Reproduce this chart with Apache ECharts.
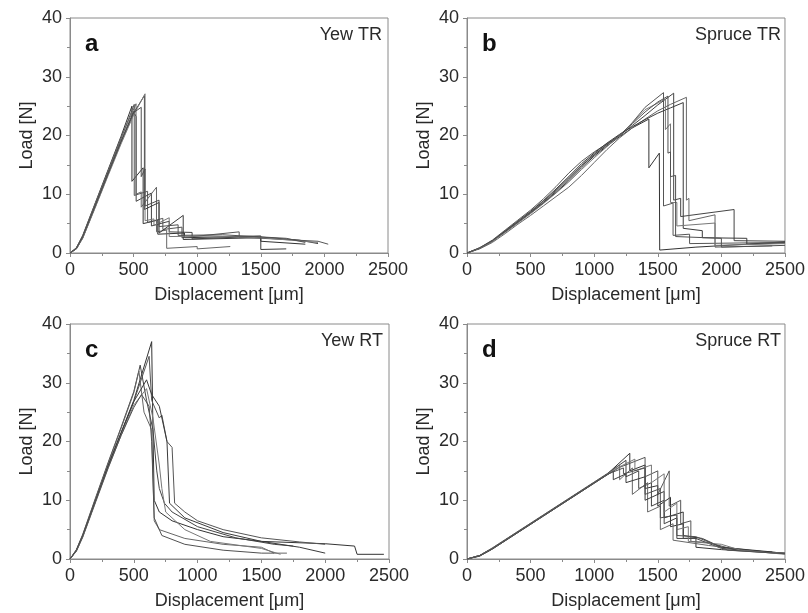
<!DOCTYPE html>
<html>
<head>
<meta charset="utf-8">
<script src="https://cdn.jsdelivr.net/npm/echarts@6/dist/echarts.min.js"></script>
<style>html,body{margin:0;padding:0;background:#fff}#c{width:808px;height:613px}</style>
</head>
<body>
<div id="c"></div>
<script>
// ---- axis ticks ----
const xTicks = [0, 500, 1000, 1500, 2000, 2500];
const yTicks = [0, 10, 20, 30, 40];
const panelLetters = ['a', 'b', 'c', 'd'];
const panelNames = ['Yew TR', 'Spruce TR', 'Yew RT', 'Spruce RT'];

// ---- (a) Yew TR : [displacement µm, load N] ----
const yewTR_1 = [[0,0],[50,0.9],[100,3],[200,8.6],[300,14.2],[400,19.8],[487,25],[487,12.2],[575,14.5],[575,5],[690,5.6],[690,3.2],[900,3.4],[900,2.6],[1500,2.9],[1500,2],[1850,1.5]];
const yewTR_2 = [[0,0],[50,0.8],[100,2.8],[200,8.3],[300,13.8],[400,19.4],[505,25.3],[505,9.8],[610,10.5],[610,5.2],[730,5.9],[730,4],[880,4.4],[880,2.6],[1330,3.6],[1330,2.7],[1950,2],[2030,1.5]];
const yewTR_3 = [[0,0],[50,0.7],[100,2.6],[200,8],[300,13.4],[400,18.9],[500,24.1],[520,23.2],[520,8.8],[640,10.2],[640,4.6],[780,5.4],[780,3.6],[960,3.5],[960,2.4],[1450,2.8],[1800,2.2],[1950,1.6]];
const yewTR_4 = [[0,0],[50,0.8],[100,2.9],[200,8.5],[300,14],[400,19.6],[519,25.4],[519,10],[560,10.4],[560,7.8],[680,11.2],[680,3.6],[760,3.9],[760,0.8],[1000,1.1],[1000,0.7],[1260,1.1]];
const yewTR_5 = [[0,0],[50,0.7],[100,2.6],[200,8],[300,13.5],[400,18.8],[500,23.8],[585,26.8],[585,7.4],[700,8.6],[700,3.4],[890,6.4],[890,2.3],[1500,2.6],[1500,0.6],[1700,0.7]];
const yewTR_6 = [[0,0],[50,0.7],[100,2.5],[200,7.8],[300,13.2],[400,18.5],[500,23.5],[590,27.1],[590,5.5],[660,5.8],[660,4.7],[780,6],[780,2.8],[1100,2.9],[1500,2.6],[1950,1.8]];
const yewTR_7 = [[0,0],[50,0.8],[100,2.8],[200,8.2],[300,13.6],[400,19],[500,23.9],[560,24.8],[560,13],[590,14.3],[590,8],[700,9],[700,4.5],[850,4.8],[850,3],[1200,3.1],[1700,2.5],[1850,1.8]];

// ---- (b) Spruce TR ----
const spruceTR_1 = [[0,0],[100,0.8],[200,2],[300,3.6],[400,5.2],[500,6.8],[600,8.5],[700,10.3],[800,12.3],[900,14.5],[1000,16.5],[1100,18.2],[1200,19.8],[1300,21.3],[1430,22.8],[1430,14.5],[1512,17],[1515,0.5],[1800,1],[2200,1.5],[2500,1.9]];
const spruceTR_2 = [[0,0],[100,0.9],[200,2.2],[300,3.9],[400,5.6],[500,7.3],[600,9.2],[700,11.3],[800,13.6],[900,15.6],[1000,17.2],[1100,18.6],[1200,19.9],[1300,22.2],[1400,24.8],[1545,27.3],[1545,8],[1620,8.5],[1620,3],[1750,3.2],[1750,1.6],[2500,1.8]];
const spruceTR_3 = [[0,0],[100,0.8],[200,2],[300,3.6],[400,5.2],[500,6.9],[600,8.6],[700,10.5],[800,12.6],[900,14.8],[1000,16.7],[1100,18.4],[1200,20],[1300,21.7],[1400,23.4],[1500,25.2],[1625,27.2],[1625,9],[1680,9.3],[1680,6.2],[2100,7.4],[2100,2.1],[2500,2]];
const spruceTR_4 = [[0,0],[100,0.7],[200,1.8],[300,3.3],[400,4.9],[500,6.4],[600,8],[700,9.6],[800,11.2],[900,13.2],[1000,15.4],[1100,17.6],[1200,19.6],[1300,21.3],[1400,22.8],[1500,24.2],[1600,25.3],[1725,26.5],[1725,9],[1745,9.3],[1745,5.5],[1950,6.5],[1950,1],[2400,1.2]];
const spruceTR_5 = [[0,0],[100,0.8],[200,2.1],[300,3.7],[400,5.4],[500,7.1],[600,8.9],[700,10.9],[800,13],[900,15.2],[1000,17],[1100,18.7],[1200,20.2],[1300,21.5],[1400,22.7],[1500,23.8],[1600,24.7],[1700,25.6],[1700,4.2],[1850,3.8],[1850,2.6],[2200,2.5],[2200,1.5],[2500,1.7]];
const spruceTR_6 = [[0,0],[100,0.8],[200,2],[300,3.5],[400,5.1],[500,6.7],[600,8.4],[700,10.2],[800,12.1],[900,14.2],[1000,16.2],[1100,18.1],[1200,20],[1300,22.2],[1400,24.4],[1560,26.2],[1560,21],[1600,22],[1600,8.6],[1650,8.6],[1650,4.6],[1950,5.1],[1950,1.3],[2500,1.6]];
const spruceTR_7 = [[0,0],[100,0.9],[200,2.1],[300,3.8],[400,5.4],[500,7],[600,8.8],[700,10.7],[800,12.8],[900,14.9],[1000,16.8],[1100,18.5],[1200,20.1],[1300,22],[1400,24],[1500,25.7],[1580,26.7],[1580,17],[1600,17.2],[1600,13],[1640,13.2],[1640,2.8],[2000,2.5],[2000,1],[2500,1.3]];

// ---- (c) Yew RT ----
const yewRT_1 = [[0,0],[50,1.5],[100,4],[200,10],[300,16],[400,21.5],[500,27],[640,37],[650,22],[660,10],[700,8],[800,6.5],[1000,5],[1200,3.8],[1500,3],[2000,2.6],[2230,2.2],[2250,0.8],[2460,0.8]];
const yewRT_2 = [[0,0],[50,1.4],[100,3.8],[200,9.8],[300,15.8],[400,21.3],[500,26.8],[620,34.5],[640,27],[700,24],[720,24.5],[760,20],[800,19],[820,9.5],[900,8],[1000,6.5],[1200,5],[1500,3.6],[1800,2.9],[2000,2.5]];
const yewRT_3 = [[0,0],[50,1.6],[100,4.2],[200,10.4],[300,16.5],[400,22.4],[500,28.5],[550,33],[600,27],[650,22],[680,15],[700,12],[740,9.5],[800,8],[1000,5.5],[1300,3.6],[1600,2.5],[1750,2.2]];
const yewRT_4 = [[0,0],[50,1.5],[100,4.1],[200,10.2],[300,16.3],[400,22.2],[500,28.3],[540,32],[580,25],[640,22],[660,6.5],[700,5],[900,3.5],[1200,2.5],[1500,2],[1600,1],[1700,1]];
const yewRT_5 = [[0,0],[50,1.4],[100,3.9],[200,9.9],[300,15.9],[400,21.4],[500,26.8],[600,30.5],[640,28],[700,26],[760,20],[780,9.5],[900,7],[1200,4.5],[1500,3],[1800,2],[2000,1]];
const yewRT_6 = [[0,0],[50,1.3],[100,3.7],[200,9.6],[300,15.5],[400,21],[500,26.2],[600,29],[650,24],[700,16],[720,12],[750,8],[900,5],[1100,3],[1500,1.8],[1650,0.8]];
const yewRT_7 = [[0,0],[50,1.4],[100,3.9],[200,9.8],[300,15.6],[400,21],[500,25.8],[560,28],[620,26],[640,20],[660,7],[720,4],[900,2.5],[1200,1.5],[1500,1],[1600,1]];

// ---- (d) Spruce RT ----
const spruceRT_1 = [[0,0],[100,0.6],[200,1.8],[300,3.2],[400,4.6],[500,6],[600,7.4],[700,8.8],[800,10.2],[900,11.6],[1000,13],[1100,14.4],[1280,18],[1280,15],[1400,16],[1400,12],[1500,12.5],[1500,9],[1600,10.5],[1600,5.5],[1700,6],[1700,3.5],[1800,3.6],[1800,2],[2000,1.6],[2500,0.9]];
const spruceRT_2 = [[0,0],[100,0.5],[200,1.7],[300,3.1],[400,4.5],[500,5.9],[600,7.3],[700,8.7],[800,10.1],[900,11.5],[1000,12.9],[1100,14.3],[1200,15.6],[1400,17.3],[1400,14],[1500,15],[1500,11],[1590,15],[1590,9],[1680,10],[1680,6],[1760,6.5],[1760,3],[1900,2.8],[2100,1.6],[2500,1]];
const spruceRT_3 = [[0,0],[100,0.6],[200,1.9],[300,3.3],[400,4.7],[500,6.1],[600,7.5],[700,8.9],[800,10.3],[900,11.7],[1000,13.1],[1100,14.5],[1250,16.8],[1250,14],[1350,15],[1350,12],[1450,13],[1450,9],[1550,10],[1550,6],[1650,7],[1650,3.5],[1800,3.5],[2000,1.8],[2500,1]];
const spruceRT_4 = [[0,0],[100,0.6],[200,1.8],[300,3.2],[400,4.6],[500,6],[600,7.4],[700,8.8],[800,10.2],[900,11.6],[1000,13],[1100,14.4],[1200,16],[1200,13.5],[1300,15.5],[1300,11],[1420,13],[1420,8],[1520,9],[1520,5],[1620,6],[1620,3.2],[1900,2.3],[2300,1.3],[2500,1]];
const spruceRT_5 = [[0,0],[100,0.5],[200,1.7],[300,3.1],[400,4.5],[500,5.9],[600,7.3],[700,8.7],[800,10.1],[900,11.5],[1000,12.9],[1150,15],[1150,13.5],[1250,14.5],[1250,13],[1400,14],[1400,10],[1550,11.5],[1550,7],[1700,8],[1700,4],[1850,3.5],[2000,2],[2400,1.2]];
const spruceRT_6 = [[0,0],[100,0.6],[200,1.8],[300,3.2],[400,4.6],[500,6],[600,7.4],[700,8.8],[800,10.2],[900,11.6],[1000,13],[1100,14.4],[1200,15.7],[1320,17],[1320,15],[1450,16],[1450,13],[1550,14.5],[1550,8],[1650,9.5],[1650,5],[1740,5.5],[1740,3],[2000,2.5],[2150,1.5],[2500,0.8]];
const spruceRT_7 = [[0,0],[100,0.6],[200,1.8],[300,3.2],[400,4.6],[500,6],[600,7.4],[700,8.8],[800,10.2],[900,11.6],[1000,13],[1100,14.4],[1230,15.5],[1230,14.5],[1400,15.5],[1400,11],[1520,12],[1520,7],[1650,7.5],[1650,4],[1800,3.8],[2050,1.5],[2500,0.9]];

const panelSeries = [
  [yewTR_1, yewTR_2, yewTR_3, yewTR_4, yewTR_5, yewTR_6, yewTR_7],
  [spruceTR_1, spruceTR_2, spruceTR_3, spruceTR_4, spruceTR_5, spruceTR_6, spruceTR_7],
  [yewRT_1, yewRT_2, yewRT_3, yewRT_4, yewRT_5, yewRT_6, yewRT_7],
  [spruceRT_1, spruceRT_2, spruceRT_3, spruceRT_4, spruceRT_5, spruceRT_6, spruceRT_7]
];

const lineColors = ['#333', '#555', '#444', '#666', '#3a3a3a', '#777', '#505050'];
const FONT = 'Liberation Sans, Arial, sans-serif';
const grids = [
  {left: 70, top: 18, width: 318, height: 235},
  {left: 467, top: 18, width: 320, height: 235},
  {left: 70, top: 324, width: 319, height: 235},
  {left: 467, top: 324, width: 320, height: 235}
];
const axisGray = '#8a8a8a';
const textCol = '#2a2a2a';

const chart = echarts.init(document.getElementById('c'), null, {renderer: 'canvas'});

const option = {
  animation: false,
  backgroundColor: '#fff',
  grid: grids.map(g => Object.assign({show: true, borderColor: axisGray, borderWidth: 1, backgroundColor: 'transparent'}, g)),
  xAxis: grids.map((g, i) => ({
    gridIndex: i, type: 'value', min: xTicks[0], max: xTicks[xTicks.length - 1], interval: 500,
    name: 'Displacement [\u03bcm]', nameLocation: 'middle', nameGap: 33,
    nameTextStyle: {fontFamily: FONT, fontSize: 18, color: textCol},
    axisLine: {show: true, lineStyle: {color: axisGray, width: 1}},
    axisTick: {show: true, inside: false, length: 4, lineStyle: {color: axisGray}},
    minorTick: {show: true, splitNumber: 2, length: 3, lineStyle: {color: axisGray}},
    splitLine: {show: false},
    axisLabel: {fontFamily: FONT, fontSize: 18, color: textCol, margin: 8, formatter: v => String(v)}
  })),
  yAxis: grids.map((g, i) => ({
    gridIndex: i, type: 'value', min: yTicks[0], max: yTicks[yTicks.length - 1], interval: 10,
    name: 'Load [N]', nameLocation: 'middle', nameGap: 34,
    nameTextStyle: {fontFamily: FONT, fontSize: 18, color: textCol},
    axisLine: {show: true, lineStyle: {color: axisGray, width: 1}},
    axisTick: {show: true, inside: false, length: 4, lineStyle: {color: axisGray}},
    minorTick: {show: true, splitNumber: 2, length: 3, lineStyle: {color: axisGray}},
    splitLine: {show: false},
    axisLabel: {fontFamily: FONT, fontSize: 18, color: textCol, margin: 8, formatter: v => String(v)}
  })),
  series: [],
  graphic: []
};

panelSeries.forEach((list, p) => {
  list.forEach((d, k) => {
    option.series.push({
      type: 'line', xAxisIndex: p, yAxisIndex: p, data: d,
      symbol: 'none', showSymbol: false, silent: true,
      lineStyle: {width: 1, color: lineColors[k % lineColors.length]}
    });
  });
  const g = grids[p];
  option.graphic.push({
    type: 'text', left: g.left + 15, top: g.top + 14,
    style: {text: panelLetters[p], font: 'bold 24px ' + FONT, fill: '#111'}
  });
  option.graphic.push({
    type: 'text', right: 808 - (g.left + g.width) + 6, top: g.top + 8,
    style: {text: panelNames[p], font: '18px ' + FONT, fill: textCol}
  });
});

chart.setOption(option);
</script>
</body>
</html>
